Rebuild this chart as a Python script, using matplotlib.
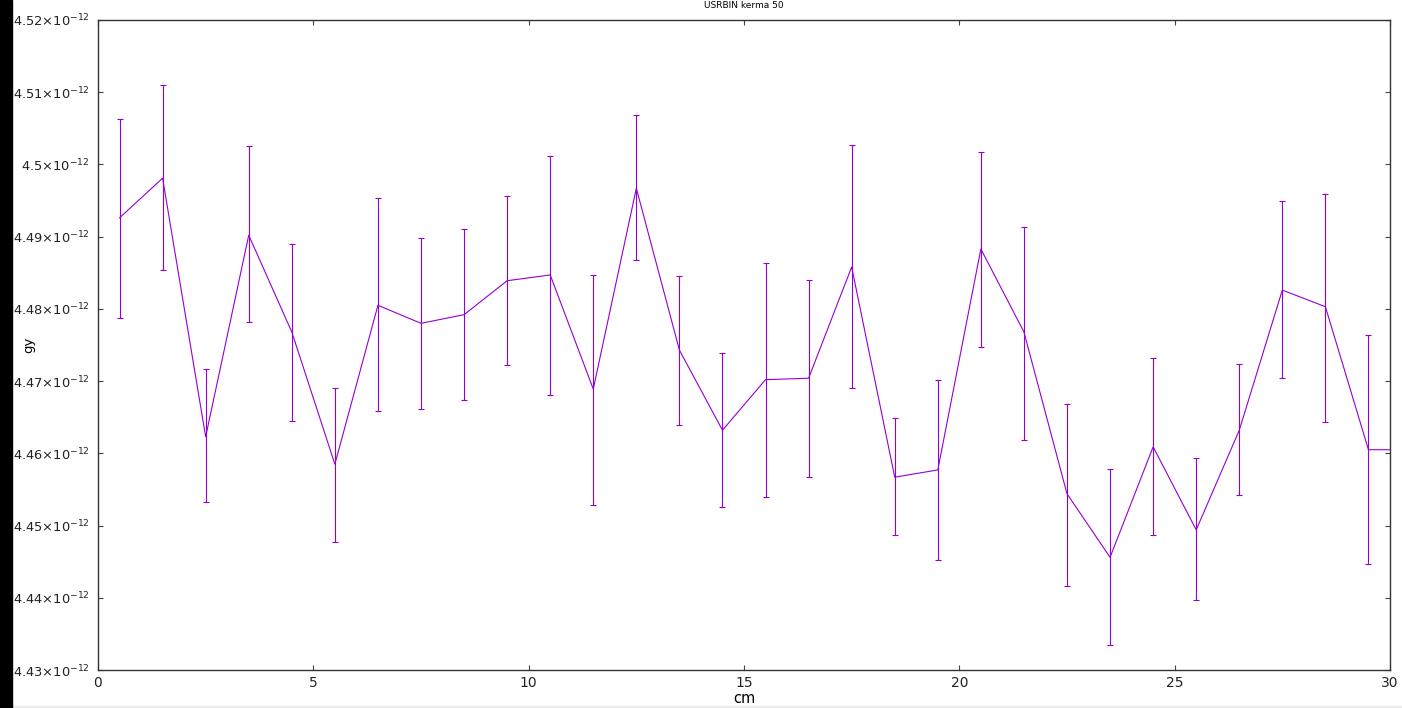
import matplotlib
matplotlib.use("Agg")
import matplotlib.pyplot as plt
from matplotlib.patches import Rectangle
from matplotlib.ticker import FixedLocator, FuncFormatter
import numpy as np

plt.rcParams['font.family'] = ['DejaVu Sans']
plt.rcParams['mathtext.fontset'] = 'dejavusans'

# bin centres (cm) and dose values, in units of 1e-12 gy
cm = [0.5, 1.5, 2.5, 3.5, 4.5, 5.5, 6.5, 7.5, 8.5, 9.5,
      10.5, 11.5, 12.5, 13.5, 14.5, 15.5, 16.5, 17.5, 18.5, 19.5,
      20.5, 21.5, 22.5, 23.5, 24.5, 25.5, 26.5, 27.5, 28.5, 29.5, 30.5]
dose = [4.4926, 4.4981, 4.4623, 4.4902, 4.4768, 4.4585, 4.4805, 4.4780, 4.4792, 4.4839,
        4.4847, 4.4689, 4.4967, 4.4743, 4.4632, 4.4702, 4.4704, 4.4858, 4.4567, 4.4577,
        4.4883, 4.4768, 4.4544, 4.4456, 4.4609, 4.4494, 4.4632, 4.4826, 4.4803, 4.4605, 4.4605]
dose_hi = [4.5063, 4.5110, 4.4717, 4.5026, 4.4890, 4.4690, 4.4954, 4.4898, 4.4911, 4.4956,
           4.5012, 4.4847, 4.5068, 4.4846, 4.4739, 4.4864, 4.4840, 4.5027, 4.4649, 4.4702,
           4.5017, 4.4913, 4.4668, 4.4578, 4.4732, 4.4594, 4.4724, 4.4949, 4.4959, 4.4764, 4.4764]
dose_lo = [4.4787, 4.4854, 4.4533, 4.4782, 4.4645, 4.4477, 4.4659, 4.4661, 4.4674, 4.4722,
           4.4681, 4.4528, 4.4868, 4.4639, 4.4526, 4.4540, 4.4567, 4.4690, 4.4487, 4.4452,
           4.4747, 4.4618, 4.4416, 4.4335, 4.4487, 4.4397, 4.4542, 4.4704, 4.4644, 4.4447, 4.4447]

x = np.array(cm)
y = np.array(dose) * 1e-12
yerr = [y - np.array(dose_lo) * 1e-12, np.array(dose_hi) * 1e-12 - y]

col = '#9400d3'

fig = plt.figure(figsize=(14.02, 7.08), dpi=100)
ax = fig.add_axes([98/1402, 1 - 670/708, 1292/1402, 650/708])

ax.errorbar(x, y, yerr=yerr, color=col, lw=0.8, elinewidth=0.8,
            capsize=2.5, capthick=0.8, clip_on=True)

ax.set_xlim(0, 30)
ax.set_ylim(4.43e-12, 4.52e-12)

ax.xaxis.set_major_locator(FixedLocator([0, 5, 10, 15, 20, 25, 30]))
yt = [4.43e-12 + i * 0.01e-12 for i in range(10)]
ax.yaxis.set_major_locator(FixedLocator(yt))

def fmt(v, pos):
    m = '%g' % round(v * 1e12, 4)
    return m + r'$\times$10$^{-12}$'

ax.yaxis.set_major_formatter(FuncFormatter(fmt))

ax.tick_params(direction='in', length=3.5, width=0.8, top=True, right=True,
               labelsize=9.4, labelcolor='#222222', color='#444444', pad=6)
ax.tick_params(axis='x', labelsize=10, pad=4)
for s in ax.spines.values():
    s.set_linewidth(1)
    s.set_color('#333333')

ax.set_xlabel('cm', fontsize=10.5, labelpad=1)
ax.set_ylabel('gy', fontsize=9.5)
ax.yaxis.set_label_coords(-63/1292, 0.5)
ax.set_title('USRBIN kerma 50', fontsize=6.5, pad=9)

# screenshot frame bits
fig.patches.append(Rectangle((0, 0), 12/1402, 1, transform=fig.transFigure,
                             color='black', zorder=10))
fig.patches.append(Rectangle((0, 0), 1, 2/708, transform=fig.transFigure,
                             color='#ececec', zorder=9))

fig.savefig('out.png', dpi=100)
